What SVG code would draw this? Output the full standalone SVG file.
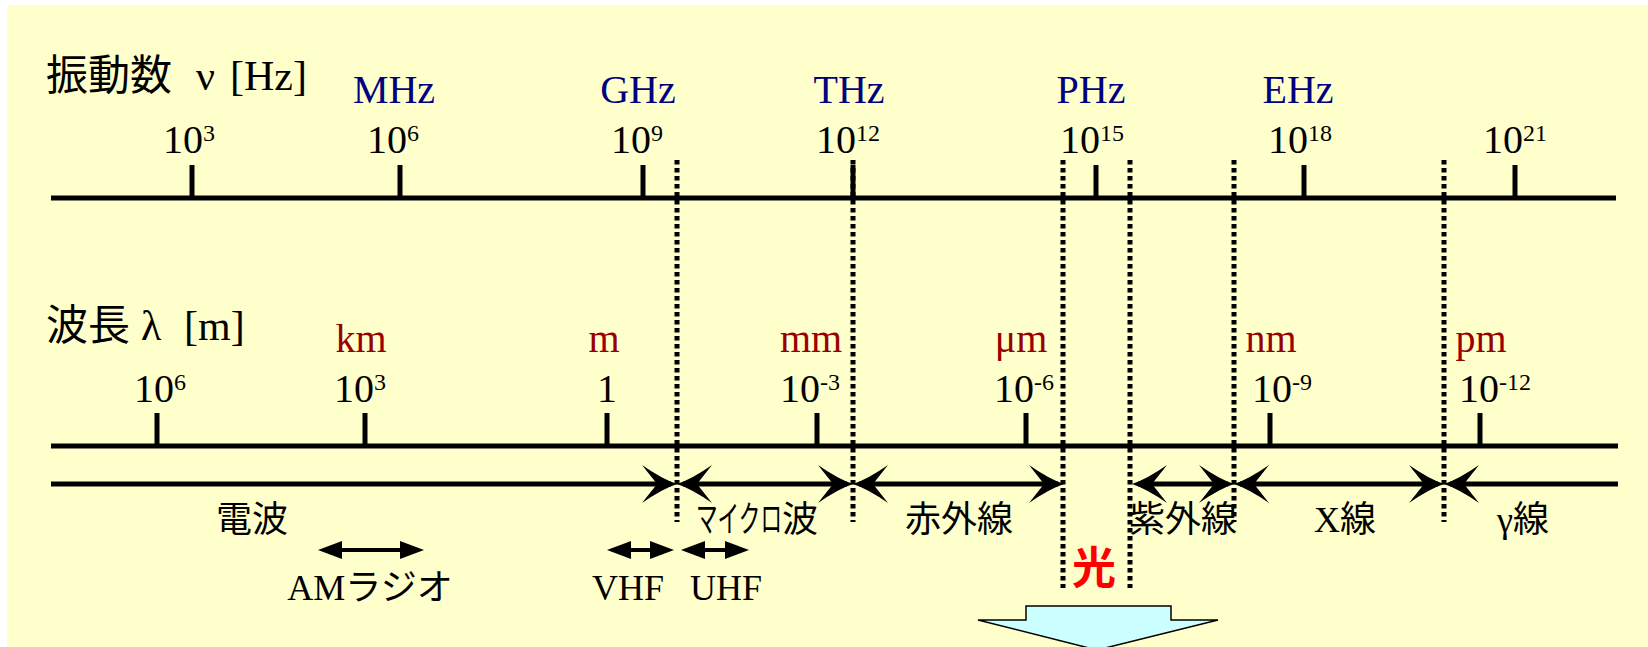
<svg xmlns="http://www.w3.org/2000/svg" width="1648" height="647" viewBox="0 0 1648 647">
<style>
.t{font-family:"Liberation Serif","Noto Sans CJK JP",serif;}
.title{font-size:42px;fill:#000;}
.uf{font-size:40px;fill:#000080;text-anchor:middle;}
.uw{font-size:40px;fill:#990000;text-anchor:middle;}
.num{font-size:40px;fill:#000;text-anchor:middle;}
.band{font-size:36px;fill:#000;text-anchor:middle;}
.hikari{font-family:"Noto Sans CJK JP",sans-serif;font-size:44px;font-weight:bold;fill:#FF0000;text-anchor:middle;}
.axis{stroke:#000;stroke-width:5;fill:none;}
.tick{stroke:#000;stroke-width:5;}
.dot{stroke:#000;stroke-width:5;stroke-dasharray:4.5 3.5;fill:none;}
.band-line{stroke:#000;stroke-width:5;fill:none;}
.small{stroke:#000;stroke-width:4;fill:none;}
</style>
<defs>
<marker id="ah" markerUnits="userSpaceOnUse" viewBox="-40 -22 46 44" markerWidth="46" markerHeight="44" refX="-6" refY="0" orient="auto-start-reverse" overflow="visible">
<path d="M0,0 Q-15,-5 -35,-19 L-20,0 L-35,19 Q-15,5 0,0 Z" fill="#000"/>
</marker>
<marker id="sh" markerUnits="userSpaceOnUse" viewBox="-26 -10 36 20" markerWidth="36" markerHeight="20" refX="-10" refY="0" orient="auto-start-reverse" overflow="visible">
<path d="M0,0 L-24,-9 L-24,9 Z" fill="#000"/>
</marker>
</defs>
<rect x="7" y="5" width="1641" height="642" fill="#FFFFCC"/>

<g id="frequency-axis">
<line class="axis" x1="51" y1="198" x2="1616" y2="198"/>
<g class="tick">
<line x1="192" y1="165" x2="192" y2="198"/>
<line x1="400" y1="165" x2="400" y2="198"/>
<line x1="643" y1="165" x2="643" y2="198"/>
<line x1="853" y1="165" x2="853" y2="198"/>
<line x1="1096" y1="165" x2="1096" y2="198"/>
<line x1="1304" y1="165" x2="1304" y2="198"/>
<line x1="1515" y1="165" x2="1515" y2="198"/>
</g>
<text class="t title" x="46" y="90">振動数<tspan x="196">ν</tspan><tspan x="230">[Hz]</tspan></text>
<text class="t uf" x="394" y="103">MHz</text>
<text class="t uf" x="638" y="103">GHz</text>
<text class="t uf" x="849" y="103">THz</text>
<text class="t uf" x="1091" y="103">PHz</text>
<text class="t uf" x="1298" y="103">EHz</text>
<text class="t num" x="189" y="153">10<tspan dy="-12" font-size="24">3</tspan></text>
<text class="t num" x="393" y="153">10<tspan dy="-12" font-size="24">6</tspan></text>
<text class="t num" x="637" y="153">10<tspan dy="-12" font-size="24">9</tspan></text>
<text class="t num" x="848" y="153">10<tspan dy="-12" font-size="24">12</tspan></text>
<text class="t num" x="1092" y="153">10<tspan dy="-12" font-size="24">15</tspan></text>
<text class="t num" x="1300" y="153">10<tspan dy="-12" font-size="24">18</tspan></text>
<text class="t num" x="1515" y="153">10<tspan dy="-12" font-size="24">21</tspan></text>
</g>

<g id="wavelength-axis">
<line class="axis" x1="51" y1="446" x2="1618" y2="446"/>
<g class="tick">
<line x1="157" y1="413" x2="157" y2="446"/>
<line x1="365" y1="413" x2="365" y2="446"/>
<line x1="607" y1="413" x2="607" y2="446"/>
<line x1="817" y1="413" x2="817" y2="446"/>
<line x1="1026" y1="413" x2="1026" y2="446"/>
<line x1="1270" y1="413" x2="1270" y2="446"/>
<line x1="1480" y1="413" x2="1480" y2="446"/>
</g>
<text class="t title" x="46" y="340">波長<tspan x="141">λ</tspan><tspan x="184">[m]</tspan></text>
<text class="t uw" x="361" y="352">km</text>
<text class="t uw" x="604" y="352">m</text>
<text class="t uw" x="811" y="352">mm</text>
<text class="t uw" x="1021" y="352">μm</text>
<text class="t uw" x="1271" y="352">nm</text>
<text class="t uw" x="1481" y="352">pm</text>
<text class="t num" x="160" y="402">10<tspan dy="-12" font-size="24">6</tspan></text>
<text class="t num" x="360" y="402">10<tspan dy="-12" font-size="24">3</tspan></text>
<text class="t num" x="607" y="402">1</text>
<text class="t num" x="810" y="402">10<tspan dy="-12" font-size="24">-3</tspan></text>
<text class="t num" x="1024" y="402">10<tspan dy="-12" font-size="24">-6</tspan></text>
<text class="t num" x="1282" y="402">10<tspan dy="-12" font-size="24">-9</tspan></text>
<text class="t num" x="1495" y="402">10<tspan dy="-12" font-size="24">-12</tspan></text>
</g>

<g id="boundaries">
<line class="dot" x1="677" y1="160" x2="677" y2="522"/>
<line class="dot" x1="853" y1="160" x2="853" y2="522"/>
<line class="dot" x1="1063" y1="160" x2="1063" y2="588"/>
<line class="dot" x1="1130" y1="160" x2="1130" y2="588"/>
<line class="dot" x1="1234" y1="160" x2="1234" y2="522"/>
<line class="dot" x1="1444" y1="160" x2="1444" y2="522"/>
</g>

<g id="connectors">
<line class="band-line" x1="51" y1="484" x2="671" y2="484" marker-end="url(#ah)"/>
<line class="band-line" x1="683" y1="484" x2="847" y2="484" marker-start="url(#ah)" marker-end="url(#ah)"/>
<line class="band-line" x1="859" y1="484" x2="1058" y2="484" marker-start="url(#ah)" marker-end="url(#ah)"/>
<line class="band-line" x1="1138" y1="484" x2="1228" y2="484" marker-start="url(#ah)" marker-end="url(#ah)"/>
<line class="band-line" x1="1240" y1="484" x2="1438" y2="484" marker-start="url(#ah)" marker-end="url(#ah)"/>
<line class="band-line" x1="1450" y1="484" x2="1618" y2="484" marker-start="url(#ah)"/>
<line class="small" x1="328" y1="550" x2="414" y2="550" marker-start="url(#sh)" marker-end="url(#sh)"/>
<line class="small" x1="617" y1="550" x2="664" y2="550" marker-start="url(#sh)" marker-end="url(#sh)"/>
<line class="small" x1="691" y1="550" x2="739" y2="550" marker-start="url(#sh)" marker-end="url(#sh)"/>
</g>

<g id="band-radio"><text class="t band" x="252" y="532">電波</text></g>
<g id="band-microwave"><text class="t band" x="757" y="532"><tspan textLength="86" lengthAdjust="spacingAndGlyphs">マイクロ</tspan>波</text></g>
<g id="band-infrared"><text class="t band" x="959" y="532">赤外線</text></g>
<g id="band-uv"><text class="t band" x="1183" y="532">紫外線</text></g>
<g id="band-xray"><text class="t band" x="1345" y="532">X線</text></g>
<g id="band-gamma"><text class="t band" x="1523" y="532">γ線</text></g>
<g id="band-light"><text class="hikari" x="1094" y="584">光</text></g>
<g id="am-radio"><text class="t band" x="370" y="600">AMラジオ</text></g>
<g id="vhf"><text class="t band" x="628" y="600">VHF</text></g>
<g id="uhf"><text class="t band" x="726" y="600">UHF</text></g>

<g id="light-arrow">
<path d="M1026,620 L1026,606 L1171,606 L1171,620 L1218,620 L1097,650 L978,620 Z" fill="#CCFFFF" stroke="#000" stroke-width="1.5"/>
</g>
</svg>
